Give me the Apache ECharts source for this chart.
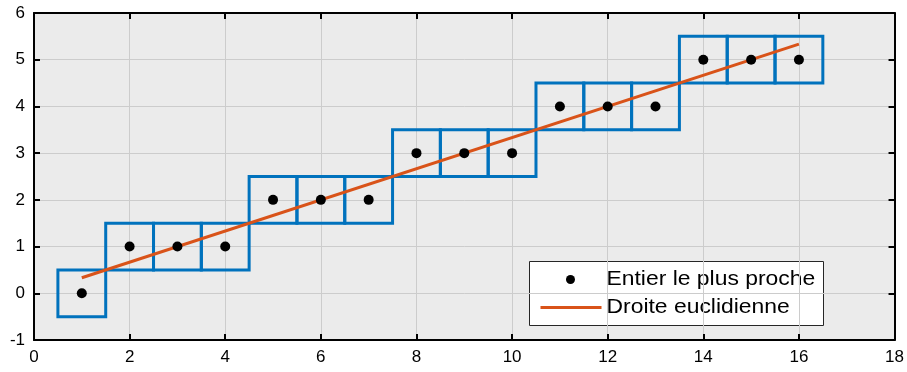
<!DOCTYPE html>
<html><head><meta charset="utf-8">
<script src="https://cdn.jsdelivr.net/npm/echarts@6/dist/echarts.min.js"></script>
<style>html,body{margin:0;padding:0;background:#fff}#c{width:907px;height:372px}</style>
</head><body><div id="c"></div>
<script>
// Data
const xs = [1,2,3,4,5,6,7,8,9,10,11,12,13,14,15,16];
const nearest = [0,1,1,1,2,2,2,3,3,3,4,4,4,5,5,5];
const lineX = [1,16];
const lineY = [1/3,16/3];
const xTicks = [0,2,4,6,8,10,12,14,16,18];
const yTicks = [-1,0,1,2,3,4,5,6];
const legendNames = ['Entier le plus proche','Droite euclidienne'];

const font = 'Liberation Sans, Arial, Helvetica, sans-serif';
const chart = echarts.init(document.getElementById('c'));
const grid = {left:34, right:9, top:13, bottom:32, show:true, backgroundColor:'#ebebeb', borderWidth:0};
const axCommon = {
  axisLine:{show:true, onZero:false, lineStyle:{color:'#000', width:2}},
  axisTick:{show:true, inside:true, length:6, lineStyle:{color:'#000', width:2}},
};
chart.setOption({
  animation:false,
  grid: grid,
  xAxis: [
    Object.assign({type:'value', min:0, max:18, interval:2, position:'bottom',
      axisLabel:{color:'#000', fontSize:17, fontFamily:font, margin:9},
      splitLine:{show:true, lineStyle:{color:'#cccccc', width:1}}}, axCommon),
    Object.assign({type:'value', min:0, max:18, interval:2, position:'top',
      axisLabel:{show:false}, splitLine:{show:false}}, axCommon)
  ],
  yAxis: [
    Object.assign({type:'value', min:-1, max:6, interval:1, position:'left',
      axisLabel:{color:'#000', fontSize:17, fontFamily:font, margin:9},
      splitLine:{show:true, lineStyle:{color:'#cccccc', width:1}}}, axCommon),
    Object.assign({type:'value', min:-1, max:6, interval:1, position:'right',
      axisLabel:{show:false}, splitLine:{show:false}}, axCommon)
  ],
  series: [
    {
      type:'custom', name:'squares', xAxisIndex:0, yAxisIndex:0,
      data: xs.map((x,i)=>[x, nearest[i]]),
      renderItem: function(params, api){
        const x = api.value(0), y = api.value(1);
        const p1 = api.coord([x-0.5, y+0.5]);
        const p2 = api.coord([x+0.5, y-0.5]);
        return {type:'rect', shape:{x:p1[0], y:p1[1], width:p2[0]-p1[0], height:p2[1]-p1[1]},
          style:{fill:null, stroke:'#0072BD', lineWidth:3}};
      },
      z:2
    },
    {
      type:'line', name:legendNames[1], data: lineX.map((x,i)=>[x, lineY[i]]),
      symbol:'none', lineStyle:{color:'#D95319', width:3}, z:3
    },
    {
      type:'scatter', name:legendNames[0], data: xs.map((x,i)=>[x, nearest[i]]),
      symbol:'circle', symbolSize:10, itemStyle:{color:'#000', opacity:1}, z:4
    }
  ],
  graphic: [
    {type:'group', left:529, top:261, z:10, children:[
      {type:'rect', shape:{x:0, y:0, width:294, height:64}, style:{fill:'#fff', stroke:'#262626', lineWidth:1}},
      {type:'circle', shape:{cx:41, cy:18, r:4.5}, style:{fill:'#000'}},
      {type:'line', shape:{x1:11, y1:46, x2:72, y2:46}, style:{stroke:'#D95319', lineWidth:3}},
      {type:'text', x:77, y:18, scaleX:1.09, style:{text:legendNames[0], fill:'#000', font:'21px '+font, verticalAlign:'middle'}},
      {type:'text', x:77, y:46, scaleX:1.09, style:{text:legendNames[1], fill:'#000', font:'21px '+font, verticalAlign:'middle'}}
    ]}
  ]
});
</script></body></html>
